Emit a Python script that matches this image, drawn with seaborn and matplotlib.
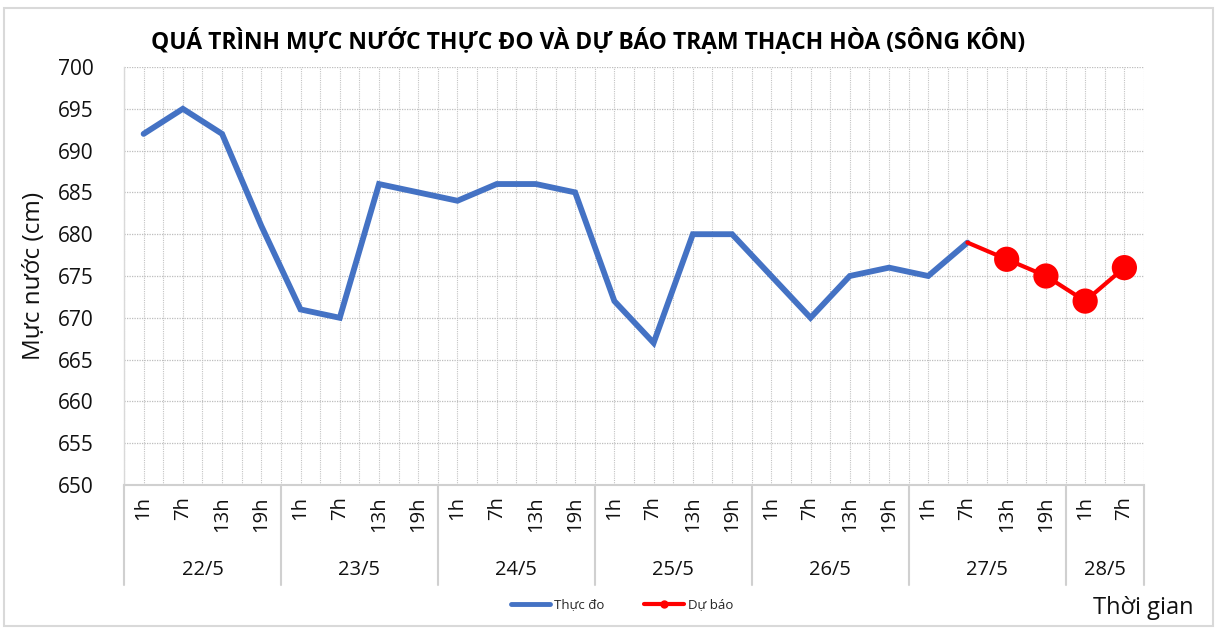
import numpy as np
import pandas as pd
import matplotlib
matplotlib.use("Agg")
import matplotlib.pyplot as plt
import seaborn as sns
from matplotlib.lines import Line2D
from matplotlib.patches import Rectangle
from matplotlib.ticker import MultipleLocator

days = ["22/5", "23/5", "24/5", "25/5", "26/5", "27/5", "28/5"]
hours_per_day = [["1h", "7h", "13h", "19h"]] * 6 + [["1h", "7h"]]
hour_labels = [h for hs in hours_per_day for h in hs]

observed = [692, 695, 692, 681,
            671, 670, 686, 685,
            684, 686, 686, 685,
            672, 667, 680, 680,
            675, 670, 675, 676,
            675, 679]
forecast = [679, 677, 675, 672, 676]  # from 27/5 7h to 28/5 7h

sns.set_theme(style="white")
plt.rcParams['font.family'] = ['Open Sans', 'DejaVu Sans']

fig = plt.figure(figsize=(12.17, 6.28), dpi=100)
ax = fig.add_axes([124/1217, 1-485/628, (1144-124)/1217, (485-67)/628])

n = len(hour_labels)
obs_df = pd.DataFrame({"x": np.arange(len(observed)), "y": observed})
fc_start = len(observed) - 1
fc_df = pd.DataFrame({"x": np.arange(fc_start, fc_start + len(forecast)), "y": forecast})

sns.lineplot(data=obs_df, x="x", y="y", ax=ax, color="#4472C4", linewidth=4.2,
             solid_joinstyle="miter", zorder=3)
sns.lineplot(data=fc_df, x="x", y="y", ax=ax, color="#FF0000", linewidth=3.0, zorder=4)
sns.scatterplot(data=fc_df.iloc[1:], x="x", y="y", ax=ax, color="#FF0000", s=330,
                edgecolor="none", zorder=5)

ax.set_xlim(-0.5, n - 0.5)
ax.set_ylim(650, 700)
ax.yaxis.set_major_locator(MultipleLocator(5))
ax.set_xticks(np.arange(n))
ax.set_xticklabels(hour_labels, rotation=90, fontsize=14.5, color="#111111")
ax.xaxis.set_minor_locator(MultipleLocator(0.5))
ax.tick_params(axis="x", which="both", length=0, pad=8)
ax.tick_params(axis="y", length=0, pad=22, labelsize=15, labelcolor="#111111")
ax.set_xlabel("")
ax.set_ylabel("Mực nước (cm)", fontsize=17.5, color="#111111")
ax.yaxis.set_label_coords(-0.076, 0.5)

ax.grid(True, which="both", axis="x", color="#c4c4c4", linestyle=(0, (1, 1)), linewidth=0.8)
ax.grid(True, which="major", axis="y", color="#bdbdbd", linestyle=(0, (1, 1)), linewidth=0.9)
ax.set_axisbelow(True)
for s in ["top", "right"]:
    ax.spines[s].set_visible(False)
ax.spines["left"].set_color("#d9d9d9")
ax.spines["left"].set_linewidth(1.0)
ax.spines["bottom"].set_color("#d0d0d0")
ax.spines["bottom"].set_linewidth(1.5)

# day group labels and separators
ax_h = 485 - 67
sep_depth = (585 - 485) / ax_h
trans = ax.get_xaxis_transform()
pos = -0.5
bounds = [pos]
for d, hs in zip(days, hours_per_day):
    start = pos
    pos += len(hs)
    bounds.append(pos)
    ax.text((start + pos) / 2, -(570 - 485) / ax_h, d, transform=trans,
            ha="center", va="center", fontsize=14.5, color="#111111")
for b in bounds:
    ax.add_line(Line2D([b, b], [0, -sep_depth], transform=trans, color="#d0d0d0",
                       linewidth=1.5, clip_on=False))

fig.text(588/1217, 1-42/628, "QUÁ TRÌNH MỰC NƯỚC THỰC ĐO VÀ DỰ BÁO TRẠM THẠCH HÒA (SÔNG KÔN)",
         ha="center", va="center", fontsize=16.5, fontweight="bold", color="#000000")
fig.text(1143/1217, 1-608/628, "Thời gian", ha="center", va="center", fontsize=17, color="#111111")

handles = [Line2D([], [], color="#4472C4", linewidth=3.5),
           Line2D([], [], color="#FF0000", linewidth=3.0, marker="o", markersize=5)]
fig.legend(handles, ["Thực đo", "Dự báo"], loc="center", ncol=2,
           bbox_to_anchor=(622/1217, 1-605/628), frameon=False, fontsize=9.5,
           handlelength=3.0, handletextpad=0.3, columnspacing=3.0)

fig.add_artist(Rectangle((4/1217, 1-626/628), (1213-4)/1217, (626-8)/628,
                         transform=fig.transFigure, fill=False, edgecolor="#d9d9d9", linewidth=1.5))

fig.savefig("out.png", dpi=100)
